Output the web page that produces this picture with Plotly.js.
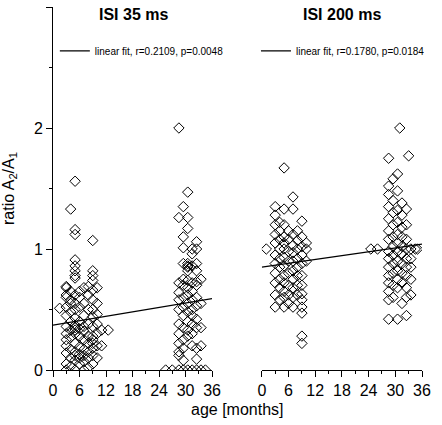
<!DOCTYPE html>
<html>
<head>
<meta charset="utf-8">
<script src="https://cdn.plot.ly/plotly-3.0.1.min.js"></script>
<style>html,body{margin:0;padding:0;background:#fff;}#chart{width:442px;height:425px;}</style>
</head>
<body>
<div id="chart"></div>
<script>
// ---- data ----
const isi35Months = [1.5, 3, 4, 5, 6, 7, 8, 9, 10, 11, 12.5,
                     25.5, 27, 28.5, 29.5, 30.5, 31.5, 32.5, 33.5, 34.5];
const isi35Values = [
  [0.51],
  [0, 0.05, 0.14, 0.2, 0.25, 0.3, 0.36, 0.45, 0.52, 0.6, 0.62, 0.68, 0.69],
  [0.03, 0.1, 0.17, 0.27, 0.33, 0.4, 0.48, 0.55, 0.58, 0.65, 1.33],
  [0, 0.08, 0.12, 0.15, 0.22, 0.3, 0.33, 0.35, 0.37, 0.43, 0.5, 0.55, 0.62, 0.76, 0.78, 0.82, 0.86, 0.91, 1.12, 1.16, 1.56],
  [0.05, 0.1, 0.13, 0.19, 0.28, 0.34, 0.4, 0.52, 0.6, 0.65],
  [0, 0.07, 0.12, 0.17, 0.25, 0.32, 0.36, 0.45, 0.55, 0.68],
  [0.02, 0.1, 0.15, 0.22, 0.28, 0.38, 0.5, 0.62, 0.69],
  [0.05, 0.12, 0.18, 0.22, 0.25, 0.28, 0.36, 0.44, 0.5, 0.58, 0.66, 0.74, 0.78, 0.82, 1.07],
  [0.1, 0.2, 0.3, 0.38, 0.46, 0.55, 0.68],
  [0.2, 0.33],
  [0.33],
  [0],
  [0],
  [0, 0.12, 0.15, 0.22, 0.3, 0.38, 0.5, 0.58, 0.64, 0.72, 1.26, 2.0],
  [0, 0.08, 0.18, 0.25, 0.35, 0.45, 0.52, 0.6, 0.7, 0.75, 0.88, 1.01, 1.1, 1.35],
  [0, 0.28, 0.33, 0.4, 0.48, 0.55, 0.62, 0.68, 0.74, 0.82, 0.85, 0.86, 0.88, 1.17, 1.26, 1.47],
  [0, 0.2, 0.3, 0.38, 0.45, 0.5, 0.58, 0.65, 0.72, 0.86, 0.96, 1.0],
  [0, 0.09, 0.18, 0.35, 0.42, 0.53, 0.6, 0.7, 0.73, 0.82, 0.88, 1.0, 1.06],
  [0, 0.2, 0.35, 0.55, 0.75],
  [0]
];

const isi200Months = [1, 3, 4, 5, 6, 7, 8, 9, 10,
                      24.5, 26, 28.5, 29.5, 30.5, 31, 31.5, 32.5, 33, 33.5, 34.5, 35];
const isi200Values = [
  [1.0],
  [0.52, 0.62, 0.72, 0.8, 0.88, 0.95, 1.05, 1.12, 1.2, 1.28, 1.35],
  [0.58, 0.68, 0.75, 0.85, 0.92, 1.0, 1.08, 1.15, 1.22],
  [0.52, 0.6, 0.65, 0.72, 0.78, 0.86, 0.93, 1.0, 1.05, 1.1, 1.2, 1.33, 1.67],
  [0.55, 0.62, 0.7, 0.8, 0.9, 0.98, 1.08, 1.15],
  [0.52, 0.6, 0.68, 0.75, 0.82, 0.9, 0.97, 1.03, 1.12, 1.33, 1.43],
  [0.62, 0.7, 0.78, 0.85, 0.92, 1.0, 1.07, 1.15],
  [0.22, 0.28, 0.47, 0.52, 0.58, 0.63, 0.7, 0.78, 0.88, 0.95, 1.02, 1.1, 1.23],
  [0.9, 1.0, 1.05],
  [1.0],
  [1.0],
  [0.42, 0.58, 0.65, 0.72, 0.78, 0.85, 0.92, 0.98, 1.08, 1.15, 1.25, 1.35, 1.45, 1.52, 1.75],
  [0.6, 0.7, 0.8, 0.88, 0.95, 1.02, 1.1, 1.2, 1.3, 1.4, 1.58],
  [0.42, 0.68, 0.75, 0.82, 0.9, 0.98, 1.05, 1.12, 1.22, 1.32, 1.48, 1.62],
  [2.0],
  [0.55, 0.72, 0.8, 0.88, 0.96, 1.02, 1.1, 1.18, 1.28, 1.38],
  [0.45, 0.6, 0.68, 0.78, 0.85, 0.92, 1.0, 1.08, 1.2, 1.33],
  [1.77],
  [0.62, 0.75, 0.85, 0.92, 1.0],
  [1.0],
  [1.0]
];

const fitAges = [0, 36];
const fit35 = [0.37, 0.59];
const fit200 = [0.85, 1.04];

const panelTitles = ['ISI 35 ms', 'ISI 200 ms'];
const fitLabels = ['linear fit, r=0.2109, p=0.0048', 'linear fit, r=0.1780, p=0.0184'];
const ageTicks = [0, 6, 12, 18, 24, 30, 36];
const ratioTicks = [0, 1, 2, 3];

// ---- build ----
function expand(months, values) {
  const x = [], y = [];
  months.forEach((m, i) => values[i].forEach(v => { x.push(m); y.push(v); }));
  return {x, y};
}
const s35 = expand(isi35Months, isi35Values);
const s200 = expand(isi200Months, isi200Values);

const FONT = 'Liberation Sans, Arial, sans-serif';
const markerStyle = {symbol: 'diamond-open', size: 8, color: '#000', line: {width: 1, color: '#000'}};

const traces = [
  {x: s35.x, y: s35.y, type: 'scatter', mode: 'markers', marker: markerStyle,
   xaxis: 'x', yaxis: 'y', showlegend: false, hoverinfo: 'x+y'},
  {x: fitAges, y: fit35, type: 'scatter', mode: 'lines', line: {color: '#000', width: 1.3},
   xaxis: 'x', yaxis: 'y', name: fitLabels[0], legend: 'legend', showlegend: true},
  {x: s200.x, y: s200.y, type: 'scatter', mode: 'markers', marker: markerStyle,
   xaxis: 'x2', yaxis: 'y2', showlegend: false, hoverinfo: 'x+y'},
  {x: fitAges, y: fit200, type: 'scatter', mode: 'lines', line: {color: '#000', width: 1.3},
   xaxis: 'x2', yaxis: 'y2', name: fitLabels[1], legend: 'legend2', showlegend: true}
];

function xAxis(domain, anchor) {
  return {
    domain: domain, anchor: anchor, range: [0, 36], tickvals: ageTicks,
    ticks: 'outside', ticklen: 6, tickwidth: 1, tickcolor: '#000',
    minor: {dtick: 3, tick0: 0, ticks: 'outside', ticklen: 3, tickwidth: 1, tickcolor: '#000', showgrid: false},
    showline: true, linecolor: '#000', linewidth: 1, showgrid: false, zeroline: false,
    tickfont: {family: FONT, size: 16, color: '#000'}, fixedrange: true
  };
}

const layout = {
  width: 442, height: 425,
  margin: {l: 53, r: 20, t: 7, b: 55},
  paper_bgcolor: '#fff', plot_bgcolor: '#fff',
  font: {family: FONT, color: '#000'},
  xaxis: xAxis([0, 0.431], 'y'),
  xaxis2: xAxis([0.566, 1], 'y2'),
  yaxis: {
    domain: [0, 1], anchor: 'x', range: [0, 3], tickvals: ratioTicks,
    ticks: 'outside', ticklen: 6, tickwidth: 1, tickcolor: '#000',
    minor: {dtick: 0.5, tick0: 0, ticks: 'outside', ticklen: 3, tickwidth: 1, tickcolor: '#000', showgrid: false},
    showline: true, linecolor: '#000', linewidth: 1, showgrid: false, zeroline: false,
    tickfont: {family: FONT, size: 16, color: '#000'},
    title: {text: 'ratio A<sub>2</sub>/A<sub>1</sub>', font: {family: FONT, size: 16, color: '#000'}, standoff: 16}
  },
  yaxis2: {domain: [0, 1], anchor: 'x2', range: [0, 3], visible: false, showgrid: false, zeroline: false},
  legend: {x: 0.005, y: 0.879, xanchor: 'left', yanchor: 'middle', bgcolor: 'rgba(0,0,0,0)',
           font: {family: FONT, size: 10, color: '#000'}, borderwidth: 0},
  legend2: {x: 0.55, y: 0.879, xanchor: 'left', yanchor: 'middle', bgcolor: 'rgba(0,0,0,0)',
            font: {family: FONT, size: 10, color: '#000'}, borderwidth: 0},
  annotations: [
    {text: '<b>' + panelTitles[0] + '</b>', xref: 'paper', yref: 'paper', x: 0.217, y: 0.978,
     xanchor: 'center', yanchor: 'middle', showarrow: false, font: {family: FONT, size: 16, color: '#000'}},
    {text: '<b>' + panelTitles[1] + '</b>', xref: 'paper', yref: 'paper', x: 0.783, y: 0.978,
     xanchor: 'center', yanchor: 'middle', showarrow: false, font: {family: FONT, size: 16, color: '#000'}},
    {text: 'age [months]', xref: 'paper', yref: 'paper', x: 0.499, y: -0.11,
     xanchor: 'center', yanchor: 'middle', showarrow: false, font: {family: FONT, size: 16, color: '#000'}}
  ]
};

Plotly.newPlot('chart', traces, layout, {staticPlot: true, displayModeBar: false});
</script>
</body>
</html>
